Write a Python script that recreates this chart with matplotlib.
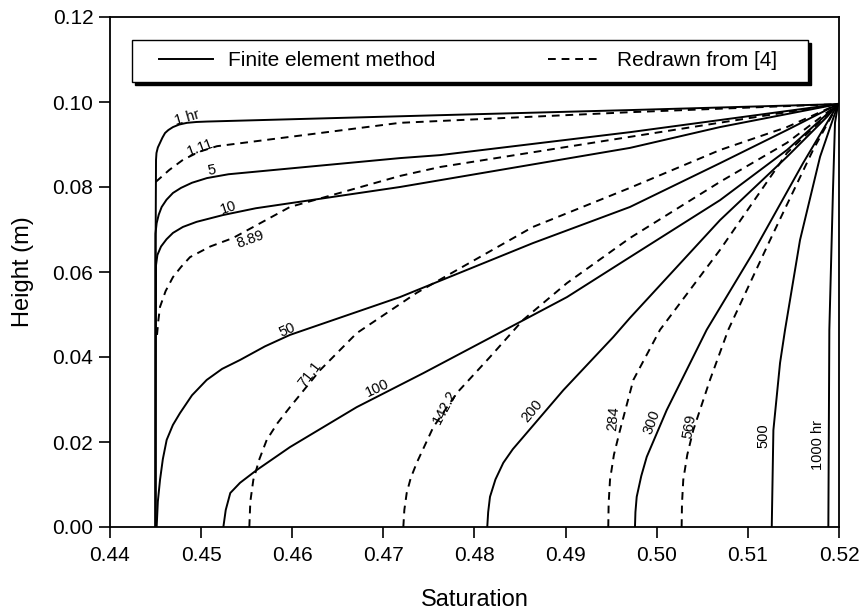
import numpy as np
import matplotlib
matplotlib.use("Agg")
import matplotlib.pyplot as plt
from matplotlib.lines import Line2D
from matplotlib.patches import Rectangle

plt.rcParams['font.family'] = ['Liberation Sans', 'DejaVu Sans']

# ---- finite element method (solid) ----
s_1 = [0.44499, 0.44499, 0.44505, 0.44510, 0.44525, 0.44549, 0.44575, 0.44604, 0.44640, 0.44691,
       0.44760, 0.44845, 0.44950, 0.45064, 0.47621, 0.49706, 0.5199]
h_1 = [0.0, 0.0600, 0.0864, 0.0880, 0.0893, 0.0904, 0.0916, 0.0927, 0.0934, 0.0941,
       0.0947, 0.0951, 0.0953, 0.0954, 0.0969, 0.0981, 0.0995]
s_5 = [0.44499, 0.44499, 0.44512, 0.44535, 0.44567, 0.44620, 0.44691, 0.44780, 0.44900, 0.45064,
       0.4530, 0.47182, 0.47621, 0.49706, 0.5199]
h_5 = [0.0, 0.0690, 0.0715, 0.0735, 0.0753, 0.0770, 0.0786, 0.0798, 0.0810, 0.0821,
       0.0830, 0.0868, 0.0875, 0.0929, 0.0995]
s_10 = [0.44499, 0.44505, 0.44520, 0.44560, 0.44620, 0.44691, 0.44800, 0.44950, 0.4524, 0.4560,
        0.47182, 0.47621, 0.49706, 0.50694, 0.5199]
h_10 = [0.0, 0.0616, 0.0640, 0.0660, 0.0677, 0.0692, 0.0706, 0.0718, 0.0734, 0.0750,
        0.0800, 0.0816, 0.0892, 0.0941, 0.0995]
s_50 = [0.44512, 0.44525, 0.44549, 0.44580, 0.44622, 0.44690, 0.44768, 0.44900, 0.45061, 0.45230,
        0.45427, 0.45700, 0.45975, 0.47182, 0.48641, 0.49706, 0.50694, 0.51429, 0.5199]
h_50 = [0.0, 0.0060, 0.0111, 0.0160, 0.0205, 0.0240, 0.0268, 0.0310, 0.0346, 0.0372,
        0.0393, 0.0425, 0.0452, 0.0541, 0.0668, 0.0753, 0.0856, 0.0934, 0.0995]
s_100 = [0.45244, 0.45270, 0.45320, 0.45427, 0.45610, 0.45975, 0.46707, 0.47438, 0.4817, 0.49015,
         0.49706, 0.50694, 0.51429, 0.5199]
h_100 = [0.0, 0.0040, 0.0080, 0.0104, 0.0134, 0.0188, 0.0282, 0.0362, 0.0445, 0.0541,
         0.0635, 0.0769, 0.0887, 0.0995]
s_200 = [0.4814, 0.4815, 0.4817, 0.4823, 0.48316, 0.4842, 0.48536, 0.48975, 0.49523, 0.49706,
         0.50694, 0.51429, 0.51868, 0.5199]
h_200 = [0.0, 0.0035, 0.0071, 0.0112, 0.0151, 0.0183, 0.0212, 0.0322, 0.0447, 0.0492,
         0.0722, 0.0871, 0.0965, 0.0995]
s_300 = [0.49761, 0.49766, 0.4978, 0.4983, 0.4989, 0.50109, 0.50548, 0.51056, 0.51605, 0.5199]
h_300 = [0.0, 0.0035, 0.0071, 0.0120, 0.0165, 0.0275, 0.0464, 0.0645, 0.0856, 0.0995]
s_500 = [0.51262, 0.5128, 0.51353, 0.51408, 0.51572, 0.51792, 0.5199]
h_500 = [0.0, 0.0228, 0.0386, 0.0464, 0.0675, 0.0871, 0.0995]
s_1000 = [0.51883, 0.51894, 0.51934, 0.51956, 0.5199]
h_1000 = [0.0, 0.0464, 0.0793, 0.0951, 0.0995]

# ---- redrawn from [4] (dashed) ----
s_1_11 = [0.44502, 0.44650, 0.44801, 0.44980, 0.45174, 0.47182, 0.49706, 0.5199]
h_1_11 = [0.0812, 0.0840, 0.0864, 0.0883, 0.0896, 0.0951, 0.0976, 0.0995]
s_8_89 = [0.44516, 0.44530, 0.44549, 0.44610, 0.44691, 0.44780, 0.44878, 0.4510, 0.4535, 0.45975,
          0.47182, 0.47621, 0.49706, 0.5199]
h_8_89 = [0.0452, 0.0485, 0.0518, 0.0555, 0.0588, 0.0612, 0.0635, 0.0660, 0.0680, 0.0753,
          0.0826, 0.0847, 0.0918, 0.0995]
s_71_1 = [0.45529, 0.45540, 0.45573, 0.45640, 0.4572, 0.45840, 0.45975, 0.46305, 0.46707, 0.47366,
          0.48641, 0.49706, 0.50694, 0.51429, 0.5199]
h_71_1 = [0.0, 0.0060, 0.0111, 0.0160, 0.0205, 0.0245, 0.0282, 0.0369, 0.0456, 0.0551,
          0.0706, 0.0798, 0.0887, 0.0941, 0.0995]
s_142_2 = [0.47219, 0.47230, 0.47256, 0.47300, 0.47366, 0.47548, 0.47805, 0.4817, 0.48532, 0.49015,
           0.49706, 0.50694, 0.51429, 0.5199]
h_142_2 = [0.0, 0.0040, 0.0080, 0.0115, 0.0151, 0.0235, 0.0315, 0.0400, 0.0487, 0.0574,
           0.0680, 0.0812, 0.0904, 0.0995]
s_284 = [0.49468, 0.49472, 0.49487, 0.4953, 0.49597, 0.49743, 0.50036, 0.50694, 0.51429, 0.5199]
h_284 = [0.0, 0.0055, 0.0111, 0.0170, 0.0228, 0.0346, 0.0464, 0.0652, 0.0880, 0.0995]
s_569 = [0.50273, 0.50277, 0.50291, 0.50335, 0.50401, 0.50584, 0.50785, 0.51243, 0.51715, 0.5199]
h_569 = [0.0, 0.0055, 0.0111, 0.0170, 0.0228, 0.0346, 0.0464, 0.0675, 0.0887, 0.0995]

fem_curves = [(s_1, h_1), (s_5, h_5), (s_10, h_10), (s_50, h_50), (s_100, h_100),
              (s_200, h_200), (s_300, h_300), (s_500, h_500), (s_1000, h_1000)]
ref_curves = [(s_1_11, h_1_11), (s_8_89, h_8_89), (s_71_1, h_71_1), (s_142_2, h_142_2),
              (s_284, h_284), (s_569, h_569)]

# curve labels: text, position, rotation
curve_labels = [
    ("1 hr", 0.44845, 0.0962, 16), ("1.11", 0.44988, 0.0893, 20), ("5", 0.45119, 0.0838, 10),
    ("10", 0.45295, 0.0752, 18), ("8.89", 0.45536, 0.0676, 20), ("50", 0.45942, 0.0464, 24),
    ("71.1", 0.46195, 0.0360, 52), ("100", 0.4693, 0.0327, 25), ("142.2", 0.47676, 0.0282, 62),
    ("200", 0.48631, 0.0272, 50), ("284", 0.4952, 0.0256, 85), ("300", 0.49948, 0.0248, 70),
    ("569", 0.50365, 0.0236, 80), ("500", 0.51166, 0.0216, 90), ("1000 hr", 0.5177, 0.0193, 90),
]

fig = plt.figure(figsize=(8.66, 6.11), dpi=100)
ax = fig.add_axes([110 / 866, 1 - 527 / 611, 729 / 866, 510 / 611])

for s, h in fem_curves:
    ax.plot(s, h, color='black', lw=1.4, solid_joinstyle='round')
for s, h in ref_curves:
    ax.plot(s, h, color='black', lw=1.4, linestyle=(0, (4, 3)))

for txt, x, y, rot in curve_labels:
    ax.text(x, y, txt, fontsize=10.5, rotation=rot, rotation_mode='anchor',
            ha='center', va='center')

ax.set_xlim(0.44, 0.52)
ax.set_ylim(0.0, 0.12)
ax.set_xticks(np.arange(0.44, 0.5201, 0.01))
ax.set_yticks(np.arange(0.0, 0.1201, 0.02))
ax.xaxis.set_major_formatter(plt.FormatStrFormatter('%.2f'))
ax.yaxis.set_major_formatter(plt.FormatStrFormatter('%.2f'))
ax.tick_params(direction='out', length=8, width=1.2, labelsize=15, pad=4)
ax.tick_params(axis='x', pad=6)
for sp in ax.spines.values():
    sp.set_linewidth(1.3)

ax.set_xlabel('Saturation', fontsize=17, labelpad=17)
ax.set_ylabel('Height (m)', fontsize=17, labelpad=13)

# legend box with a hard black shadow
box_x, box_y, box_w, box_h = 22 / 729, 445 / 510, 676 / 729, 42 / 510
ax.add_patch(Rectangle((box_x + 3 / 729, box_y - 3 / 510), box_w, box_h, transform=ax.transAxes,
                       facecolor='black', edgecolor='black', lw=1.0, zorder=4, clip_on=False))
ax.add_patch(Rectangle((box_x, box_y), box_w, box_h, transform=ax.transAxes,
                       facecolor='white', edgecolor='black', lw=1.0, zorder=5, clip_on=False))

handles = [Line2D([], [], color='black', lw=1.4),
           Line2D([], [], color='black', lw=1.4, linestyle=(0, (4, 3)))]
leg = ax.legend(handles, ['Finite element method', 'Redrawn from [4]'], ncol=2,
                loc='center left', bbox_to_anchor=(49 / 729, 466 / 510),
                borderaxespad=0, borderpad=0, fontsize=15, handlelength=2.6,
                handletextpad=0.72, columnspacing=5.4, frameon=False)
leg.set_zorder(6)

fig.savefig('out.png', dpi=100)
